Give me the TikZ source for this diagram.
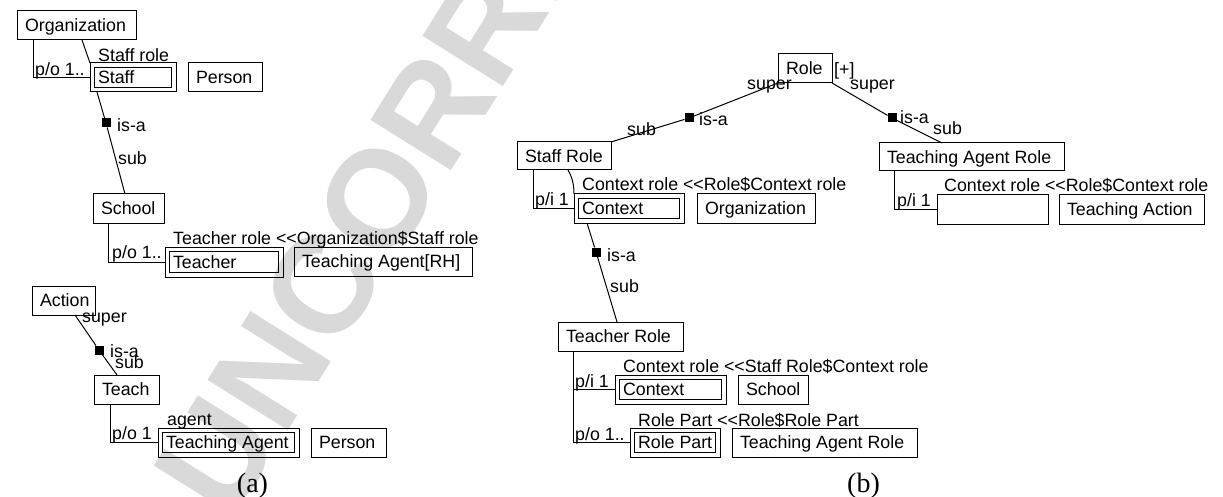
\documentclass[tikz,border=0pt]{standalone}
\usepackage{fontspec}
\setmainfont{Liberation Sans}
\newfontfamily\capfont{Liberation Serif}
\newfontfamily\wmfont{Liberation Sans}
\newdimen\bxpad \bxpad=8pt
\newcommand\dfont{\fontsize{17.8}{20}\selectfont}
\tikzset{
  box/.style={draw, line width=1pt, anchor=north west, inner xsep=\bxpad, inner ysep=0pt,
    outer sep=0pt, text height=12.9pt, text depth=0pt, font=\dfont},
  lab/.style={anchor=base west, inner sep=0pt, font=\dfont},
  sq/.style={fill=black, minimum size=9pt, inner sep=0pt, outer sep=0pt},
  con/.style={line width=1pt},
  captxt/.style={anchor=base, inner sep=0pt, font=\capfont\fontsize{28}{28}\selectfont},
  wm/.style={inner sep=0pt, text=black!15, font=\wmfont\bfseries\fontsize{138}{138}\selectfont}
}
% #1 name, #2 x1, #3 y1, #4 x2, #5 y2, #6 text
\newcommand\mkbox[6]{\node[box, minimum height={#5pt-#3pt}] (#1) at (#2,#3)
  {\makebox[\dimexpr #4pt-#2pt-2\bxpad\relax][l]{#6}};}
\newcommand\mkdbox[6]{\mkbox{#1}{#2}{#3}{#4}{#5}{#6}%
  \draw[con] ([shift={(4.5,4.5)}]#1.north west) rectangle ([shift={(-4.5,-4.5)}]#1.south east);}
\begin{document}
\begin{tikzpicture}[x=1pt, y=-1pt]
\clip (0,0) rectangle (1223,497);
\fill[white] (0,0) rectangle (1223,497);
% watermark
\node[wm, rotate=58] (wm) at (475,43) {UNCORRECTED};

% ---------- (a) ----------
\mkbox{org}{17}{11}{136}{40}{Organization}
\mkdbox{staff}{90}{63}{176}{92}{Staff}
\mkbox{person1}{188}{63}{262}{92}{Person}
\mkbox{school}{93}{194}{164}{223}{School}
\mkdbox{teacher}{165}{247}{283}{277}{Teacher}
\mkbox{tarh}{294}{247}{472}{276}{Teaching Agent[RH]}
\mkbox{action}{32}{286}{95}{315}{Action}
\mkbox{teach}{94}{375}{159}{404}{Teach}
\mkdbox{tagent}{158}{428}{299}{457}{Teaching Agent}
\mkbox{person2}{311}{428}{386}{457}{Person}

\node[sq] (isa1) at (106,123) {};
\node[sq] (isa2) at (99,350) {};

\draw[con] ([xshift=16]org.south west) |- (staff.west);
\draw[con] ([xshift=65]org.south west) -- (staff.north west);
\draw[con] ([xshift=7]staff.south west) -- (isa1) -- ([xshift=32]school.north west);
\draw[con] ([xshift=15]school.south west) |- (teacher.west);
\draw[con] ([xshift=43]action.south west) -- (isa2) -- ([xshift=23]teach.north west);
\draw[con] ([xshift=16]teach.south west) |- (tagent.west);

\node[lab] (l1) at (35,75.5) {p/o 1..};
\node[lab] (l2) at (98,61.5) {Staff role};
\node[lab] (l3) at (117,132) {is-a};
\node[lab] (l4) at (118,165) {sub};
\node[lab] (l5) at (112,258.5) {p/o 1..};
\node[lab] (l6) at (173,244) {Teacher role <\kern0pt<Organization\$Staff role};
\node[lab] (l7) at (82,322) {super};
\node[lab] (l8) at (110,357) {is-a};
\node[lab] (l9) at (115,368) {sub};
\node[lab] (l10) at (112,439) {p/o 1};
\node[lab] (l11) at (167,425.5) {agent};
\node[captxt] (capa) at (252.5,492) {(a)};

% ---------- (b) ----------
\mkbox{role}{778}{54}{832}{83}{Role}
\mkbox{staffrole}{517}{142}{611}{170}{Staff Role}
\mkdbox{ctx1}{574}{194}{684}{223}{Context}
\mkbox{org2}{697}{194}{815}{223}{Organization}
\mkbox{tarole}{879}{143}{1064}{171}{Teaching Agent Role}
\mkbox{ebox}{937}{195}{1048}{224}{}
\mkbox{tact}{1059}{195}{1204}{224}{Teaching Action}
\mkbox{trole}{558}{322}{683}{351}{Teacher Role}
\mkdbox{ctx2}{615}{375}{726}{404}{Context}
\mkbox{school2}{738}{375}{808}{404}{School}
\mkdbox{rpart}{630}{428}{720}{457}{Role Part}
\mkbox{tarole2}{732}{428}{917}{457}{Teaching Agent Role}

\node[sq] (isa3) at (689,118) {};
\node[sq] (isa4) at (892,118) {};
\node[sq] (isa5) at (596,252) {};

\draw[con] (role.south west) -- (isa3) -- (staffrole.north east);
\draw[con] (role.south east) -- (isa4) -- ([xshift=63]tarole.north west);
\draw[con] ([xshift=16]staffrole.south west) |- (ctx1.west);
\draw[con] ([xshift=51]staffrole.south west) .. controls +(4,7) and +(0,-10) .. (ctx1.north west);
\draw[con] ([xshift=13]ctx1.south west) -- (isa5) -- ([xshift=59]trole.north west);
\draw[con] ([xshift=15]trole.south west) |- (ctx2.west);
\draw[con] ([xshift=15]trole.south west) |- (rpart.west);
\draw[con] ([xshift=15]tarole.south west) |- (ebox.west);

\node[lab] (r0) at (834,76) {[+]};
\node[lab] (r1) at (747,90) {super};
\node[lab] (r2) at (699,126) {is-a};
\node[lab] (r3) at (627,136) {sub};
\node[lab] (r4) at (850,90) {super};
\node[lab] (r5) at (900,124) {is-a};
\node[lab] (r6) at (933,135) {sub};
\node[lab] (r7) at (535,205) {p/i 1};
\node[lab] (r8) at (582,191) {Context role <\kern0pt<Role\$Context role};
\node[lab] (r9) at (897,207) {p/i 1};
\node[lab] (r10) at (944,192) {Context role <\kern0pt<Role\$Context role};
\node[lab] (r11) at (607,261) {is-a};
\node[lab] (r12) at (610,292) {sub};
\node[lab] (r13) at (575,387) {p/i 1};
\node[lab] (r14) at (623,372) {Context role <\kern0pt<Staff Role\$Context role};
\node[lab] (r15) at (575,440) {p/o 1..};
\node[lab] (r16) at (638,426) {Role Part <\kern0pt<Role\$Role Part};
\node[captxt] (capb) at (863.5,492) {(b)};
\end{tikzpicture}
\end{document}
